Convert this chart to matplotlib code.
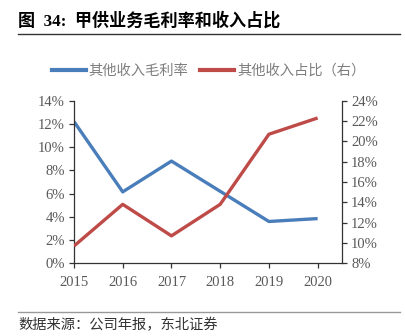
import matplotlib.pyplot as plt
from matplotlib.lines import Line2D

plt.rcParams['font.family'] = ['Liberation Serif', 'Noto Sans CJK SC', 'DejaVu Sans']

# 数据
years = [2015, 2016, 2017, 2018, 2019, 2020]
gross_margin = [12.2, 6.15, 8.8, 6.2, 3.6, 3.85]      # 其他收入毛利率 (%)
revenue_share = [9.7, 13.8, 10.7, 13.8, 20.7, 22.3]   # 其他收入占比 (%)
left_ticks = [0, 2, 4, 6, 8, 10, 12, 14]
right_ticks = [8, 10, 12, 14, 16, 18, 20, 22, 24]

blue = '#4A7EBB'
red = '#BE4B48'
gray = '#595959'
cjk = ['Noto Sans CJK SC', 'DejaVu Sans']

fig = plt.figure(figsize=(4.05, 3.36), dpi=100)
ax = fig.add_axes([0.1827, 0.2164, 0.6617, 0.4839])
ax2 = ax.twinx()

ax.plot(years, gross_margin, color=blue, lw=2.4, solid_capstyle='butt')
ax2.plot(years, revenue_share, color=red, lw=2.4, solid_capstyle='butt')

ax.set_xlim(2015, 2020.5)
ax.set_ylim(0, 14)
ax2.set_ylim(8, 24)
ax.set_xticks(years)
ax.set_xticklabels([str(y) for y in years])
ax.set_yticks(left_ticks)
ax.set_yticklabels([f'{t}%' for t in left_ticks])
ax2.set_yticks(right_ticks)
ax2.set_yticklabels([f'{t}%' for t in right_ticks])

for a in (ax, ax2):
    a.spines['top'].set_visible(False)
    for s in a.spines.values():
        s.set_linewidth(0.9)
        s.set_color('#333333')
    a.tick_params(direction='out', length=3.5, width=0.9, color='#333333',
                  labelsize=10.5, labelcolor=gray, pad=3)
ax.tick_params(axis='x', pad=6)
ax.spines['right'].set_visible(False)
ax2.spines['left'].set_visible(False)
ax2.spines['bottom'].set_visible(False)

# 标题
fig.text(0.045, 0.937, '图  34:  甲供业务毛利率和收入占比', fontsize=12.3, fontweight='bold',
         family=['Liberation Serif', 'Noto Sans CJK SC'], va='center', ha='left', color='black')
fig.add_artist(Line2D([0.045, 0.988], [0.898, 0.898], color='#333333', lw=1.0))

# 图例
handles = [Line2D([], [], color=blue, lw=3), Line2D([], [], color=red, lw=3)]
fig.legend(handles, ['其他收入毛利率', '其他收入占比（右）'], loc='center',
           bbox_to_anchor=(0.515, 0.79), ncol=2, frameon=False, handlelength=2.4,
           handletextpad=0.2, columnspacing=0.8, prop={'family': cjk, 'size': 10.3},
           labelcolor='#7F7F7F')

# 来源
fig.add_artist(Line2D([0.045, 0.988], [0.07, 0.07], color='#999999', lw=1.0))
fig.text(0.045, 0.032, '数据来源：公司年报，东北证券', fontsize=10.3,
         family=cjk, va='center', ha='left', color='#333333')

fig.savefig('out.png', dpi=100)
